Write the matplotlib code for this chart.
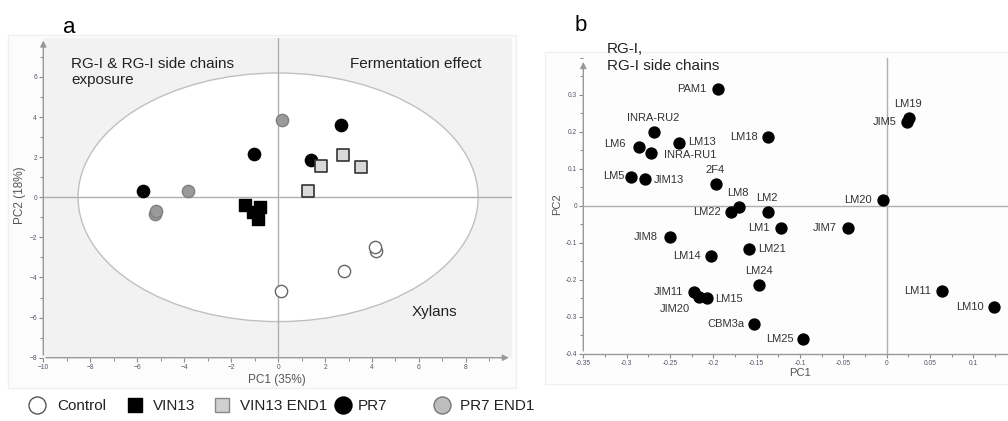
import matplotlib
matplotlib.use("Agg")
import matplotlib.pyplot as plt
from matplotlib.patches import Ellipse, Rectangle
from matplotlib.ticker import MultipleLocator

plt.rcParams['font.family'] = ['Liberation Sans', 'DejaVu Sans']

# ---------------- Data: panel a (scores) ----------------
control_x = [4.18, 4.13, 2.80, 0.13]
control_y = [-2.68, -2.46, -3.68, -4.66]
vin13_x = [-1.41, -0.77, -1.07, -0.84]
vin13_y = [-0.40, -0.47, -0.71, -1.09]
vin13end1_x = [1.28, 1.82, 2.77, 3.54]
vin13end1_y = [0.31, 1.58, 2.13, 1.51]
pr7_x = [-5.74, -1.01, 1.39, 2.67]
pr7_y = [0.31, 2.17, 1.88, 3.59]
pr7end1_x = [0.16, -3.82, -5.25, -5.20]
pr7end1_y = [3.86, 0.30, -0.85, -0.68]
legend_labels = ["Control", "VIN13", "VIN13 END1", "PR7", "PR7 END1"]

# ---------------- Data: panel b (loadings) ----------------
ab_names = ["PAM1", "INRA-RU2", "LM6", "INRA-RU1", "LM13", "LM18", "LM5", "JIM13",
            "2F4", "LM19", "JIM5", "LM20", "LM8", "LM22", "LM2", "LM1", "JIM7",
            "JIM8", "LM21", "LM14", "LM24", "JIM11", "JIM20", "LM15", "CBM3a",
            "LM25", "LM11", "LM10"]
ab_pc1 = [-0.195, -0.268, -0.286, -0.272, -0.240, -0.137, -0.295, -0.279,
          -0.197, 0.026, 0.023, -0.004, -0.170, -0.180, -0.137, -0.122, -0.045,
          -0.250, -0.159, -0.203, -0.147, -0.222, -0.217, -0.207, -0.153,
          -0.096, 0.064, 0.124]
ab_pc2 = [0.315, 0.199, 0.159, 0.143, 0.169, 0.186, 0.078, 0.071,
          0.059, 0.236, 0.225, 0.015, -0.004, -0.017, -0.016, -0.059, -0.061,
          -0.084, -0.118, -0.135, -0.214, -0.232, -0.246, -0.250, -0.320,
          -0.361, -0.231, -0.275]

# label placement (pixel offsets, alignment) -- layout only
lab_off = {
    "PAM1": (-11, 0, 'right'), "INRA-RU2": (-1, 14, 'center'), "LM6": (-13, 3, 'right'),
    "INRA-RU1": (13, -2, 'left'), "LM13": (9, 1, 'left'), "LM18": (-10, 0, 'right'),
    "LM5": (-6, 1, 'right'), "JIM13": (9, -1, 'left'), "2F4": (-1, 14, 'center'),
    "LM19": (-1, 14, 'center'), "JIM5": (-10, 0, 'right'), "LM20": (-11, 0, 'right'),
    "LM8": (-1, 14, 'center'), "LM22": (-10, 0, 'right'), "LM2": (-1, 14, 'center'),
    "LM1": (-11, 0, 'right'), "JIM7": (-11, 0, 'right'), "JIM8": (-12, 0, 'right'),
    "LM21": (9, 0, 'left'), "LM14": (-10, 0, 'right'), "LM24": (0, 14, 'center'),
    "JIM11": (-11, 0, 'right'), "JIM20": (-24, -12, 'center'), "LM15": (8, -1, 'left'),
    "CBM3a": (-10, 0, 'right'), "LM25": (-10, 0, 'right'), "LM11": (-11, 0, 'right'),
    "LM10": (-10, 0, 'right'),
}

W, H = 1008, 421
fig = plt.figure(figsize=(W / 100, H / 100), dpi=100)
fig.patch.set_facecolor('white')


def px(x0, y0, x1, y1):
    return [x0 / W, 1 - y1 / H, (x1 - x0) / W, (y1 - y0) / H]


# background layer
bg = fig.add_axes([0, 0, 1, 1], zorder=0)
bg.set_xlim(0, W)
bg.set_ylim(H, 0)
bg.axis('off')
bg.add_patch(Rectangle((8, 35), 508, 353, facecolor='#fcfcfc', edgecolor='#f0f0f0', lw=1))
bg.add_patch(Rectangle((545, 52), 470, 332, facecolor='#fdfdfd', edgecolor='#f0f0f0', lw=1))

TICK_C = '#8a8a8a'
LAB_C = '#555566'

# ---------------- Panel a ----------------
axa = fig.add_axes(px(43.3, 37.7, 511.7, 357.7), zorder=1)
axa.set_xlim(-10, 9.95)
axa.set_ylim(-8, 7.96)
axa.set_facecolor('#f2f2f2')
for s in axa.spines.values():
    s.set_visible(False)
axa.add_patch(Ellipse((0, 0), 17.04, 12.4, facecolor='white', edgecolor='#c0c0c0', lw=1, zorder=1))
axa.axhline(0, color='#b0b0b0', lw=1, zorder=2)
axa.axvline(0, color='#b0b0b0', lw=1, zorder=2)
axa.annotate('', xy=(0, 1), xytext=(0, 0), xycoords='axes fraction',
             arrowprops=dict(arrowstyle='-|>', color='#999999', lw=1, mutation_scale=9), zorder=3)
axa.annotate('', xy=(1, 0), xytext=(0, 0), xycoords='axes fraction',
             arrowprops=dict(arrowstyle='-|>', color='#999999', lw=1, mutation_scale=9), zorder=3)
axa.set_xticks(range(-10, 9, 2))
axa.set_yticks(range(-8, 7, 2))
axa.xaxis.set_minor_locator(MultipleLocator(1))
axa.yaxis.set_minor_locator(MultipleLocator(1))
axa.tick_params(which='major', length=3, width=0.8, color=TICK_C, labelsize=4.8,
                labelcolor=LAB_C, pad=1.5)
axa.tick_params(which='minor', length=2, width=0.7, color=TICK_C)

ms = 78
axa.scatter(control_x, control_y, s=ms, marker='o', facecolor='white', edgecolor='#666666', lw=1, zorder=5)
axa.scatter(vin13_x, vin13_y, s=70, marker='s', facecolor='black', edgecolor='black', lw=1, zorder=5)
axa.scatter(pr7_x, pr7_y, s=ms, marker='o', facecolor='black', edgecolor='black', lw=1, zorder=5)
axa.scatter(vin13end1_x, vin13end1_y, s=78, marker='s', facecolor='#d9d9d9', edgecolor='#333333', lw=1.2, zorder=6)
axa.scatter(pr7end1_x, pr7end1_y, s=ms, marker='o', facecolor='#9a9a9a', edgecolor='#808080', lw=1, zorder=5)

fig.text(71 / W, 1 - 67.5 / H, "RG-I & RG-I side chains", fontsize=11, color='#222222', va='baseline')
fig.text(71 / W, 1 - 84 / H, "exposure", fontsize=11, color='#222222', va='baseline')
fig.text(350 / W, 1 - 67.5 / H, "Fermentation effect", fontsize=11, color='#222222', va='baseline')
fig.text(412 / W, 1 - 316 / H, "Xylans", fontsize=11, color='#222222', va='baseline')
fig.text(277 / W, 1 - 380 / H, "PC1 (35%)", fontsize=8.5, color='#555555', ha='center', va='center')
fig.text(20 / W, 1 - 195 / H, "PC2 (18%)", fontsize=8.5, color='#555555', ha='center', va='center',
         rotation=90)
fig.text(63 / W, 1 - 33 / H, "a", fontsize=16, color='black', va='baseline')

# legend (panel a)
leg_items = [
    (37, 'o', 'white', '#555555', 150, legend_labels[0], 57),
    (135, 's', 'black', 'black', 110, legend_labels[1], 153),
    (222, 's', '#d0d0d0', '#888888', 95, legend_labels[2], 240),
    (343, 'o', 'black', 'black', 150, legend_labels[3], 358),
    (442, 'o', '#bdbdbd', '#777777', 150, legend_labels[4], 460),
]
for mx, mk, fc, ec, sz, lab, tx in leg_items:
    bg.scatter([mx], [405], s=sz, marker=mk, facecolor=fc, edgecolor=ec, lw=1, zorder=3)
    bg.text(tx, 410, lab, fontsize=11, color='#222222', va='baseline', ha='left')

# ---------------- Panel b ----------------
axb = fig.add_axes(px(583.3, 57.7, 1008, 353.7), zorder=1)
axb.set_xlim(-0.35, 0.14)
axb.set_ylim(-0.4, 0.4)
axb.set_facecolor('none')
for k in ['top', 'right', 'left']:
    axb.spines[k].set_visible(False)
axb.spines['bottom'].set_color('#999999')
axb.spines['bottom'].set_linewidth(1)
axb.annotate('', xy=(0, 0.995), xytext=(0, 0), xycoords='axes fraction',
             arrowprops=dict(arrowstyle='-|>', color='#999999', lw=1, mutation_scale=9), zorder=3)
axb.axhline(0, color='#b0b0b0', lw=1, zorder=2)
axb.axvline(0, color='#b0b0b0', lw=1, zorder=2)
xt = [-0.35, -0.3, -0.25, -0.2, -0.15, -0.1, -0.05, 0, 0.05, 0.1]
axb.set_xticks(xt)
axb.set_xticklabels(["-0.35", "-0.3", "-0.25", "-0.2", "-0.15", "-0.1", "-0.05", "0", "0.05", "0.1"])
yt = [-0.4, -0.3, -0.2, -0.1, 0, 0.1, 0.2, 0.3]
axb.set_yticks(yt)
axb.set_yticklabels(["-0.4", "-0.3", "-0.2", "-0.1", "0", "0.1", "0.2", "0.3"])
axb.xaxis.set_minor_locator(MultipleLocator(0.025))
axb.yaxis.set_minor_locator(MultipleLocator(0.05))
axb.tick_params(which='major', length=3, width=0.8, color=TICK_C, labelsize=4.8,
                labelcolor=LAB_C, pad=1.5)
axb.tick_params(which='minor', length=2, width=0.7, color=TICK_C)

axb.scatter(ab_pc1, ab_pc2, s=62, marker='o', facecolor='black', edgecolor='black', zorder=5)
for n, x, y in zip(ab_names, ab_pc1, ab_pc2):
    dx, dy, ha = lab_off[n]
    axb.annotate(n, (x, y), xytext=(dx, dy), textcoords='offset pixels', ha=ha, va='center',
                 fontsize=8, color='#333333', zorder=6)

fig.text(606.7 / W, 1 - 53.3 / H, "RG-I,", fontsize=11, color='#222222', va='baseline')
fig.text(606.7 / W, 1 - 70 / H, "RG-I side chains", fontsize=11, color='#222222', va='baseline')
fig.text(800 / W, 1 - 373 / H, "PC1", fontsize=8, color='#555555', ha='center', va='center')
fig.text(557 / W, 1 - 204 / H, "PC2", fontsize=8, color='#555555', ha='center', va='center', rotation=90)
fig.text(575 / W, 1 - 31 / H, "b", fontsize=16, color='black', va='baseline')

fig.savefig("out.png", dpi=100, facecolor='white')
